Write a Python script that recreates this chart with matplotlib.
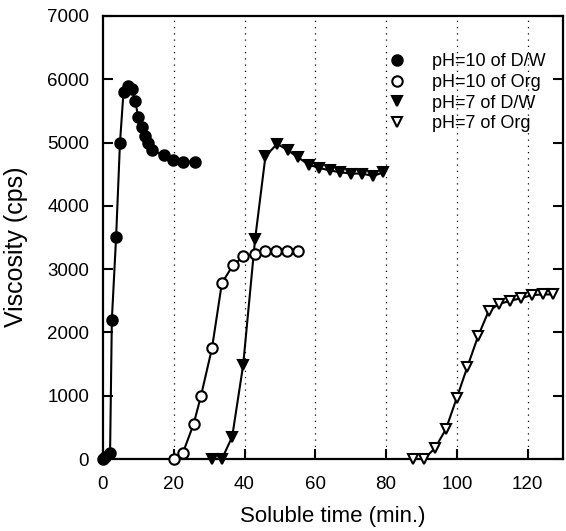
import matplotlib
matplotlib.use("Agg")
import matplotlib.pyplot as plt

plt.rcParams["font.family"] = ["Liberation Sans", "DejaVu Sans"]

# pH=10 of D/W (filled circles)
d10_time = [0, 0.6, 2.0, 2.5, 3.7, 4.8, 5.8, 7.0, 8.1, 9.1, 10.0, 11.0, 11.9, 12.8, 13.8, 17.1, 19.9, 22.7, 25.9]
d10_visc = [0, 30, 100, 2200, 3500, 5000, 5800, 5900, 5850, 5650, 5400, 5250, 5100, 5000, 4880, 4800, 4720, 4700, 4700]

# pH=10 of Org (open circles)
o10_time = [20, 22.6, 25.6, 27.7, 30.8, 33.6, 36.7, 39.7, 42.9, 45.9, 49, 52, 55]
o10_visc = [0, 100, 550, 1000, 1750, 2780, 3060, 3200, 3240, 3280, 3280, 3280, 3280]

# pH=7 of D/W (filled down-triangles)
d7_time = [30.8, 33.6, 36.5, 39.6, 43, 45.9, 49.2, 52.2, 55, 58.2, 61, 64.1, 67.1, 70.2, 73.3, 76.3, 79.2]
d7_visc = [0, 0, 350, 1480, 3480, 4780, 4980, 4880, 4770, 4650, 4600, 4560, 4530, 4510, 4510, 4470, 4530]

# pH=7 of Org (open down-triangles)
o7_time = [87.7, 90.7, 93.8, 96.9, 100, 103, 106, 109, 112, 115.1, 118.1, 121.2, 124.3, 127.3]
o7_visc = [0, 0, 170, 470, 970, 1460, 1940, 2340, 2450, 2500, 2540, 2590, 2600, 2600]

x_ticks = [0, 20, 40, 60, 80, 100, 120]
y_ticks = [0, 1000, 2000, 3000, 4000, 5000, 6000, 7000]

series = [
    (d10_time, d10_visc, "o", "black", "pH=10 of D/W"),
    (o10_time, o10_visc, "o", "white", "pH=10 of Org"),
    (d7_time, d7_visc, "v", "black", "pH=7 of D/W"),
    (o7_time, o7_visc, "v", "white", "pH=7 of Org"),
]

fig = plt.figure(figsize=(5.66, 5.31), dpi=100)
ax = fig.add_axes([103 / 566, 1 - 459 / 531, 460 / 566, 443 / 531])

# dotted vertical guides
for xv in x_ticks[1:]:
    ax.axvline(xv, color="black", linewidth=0.9, linestyle=(0, (1, 4)), zorder=1)

for t, v, mk, face, name in series:
    ax.plot(t, v, "-", color="black", linewidth=1.5, zorder=2, clip_on=False)
    ax.plot(t, v, linestyle="none", marker=mk, markersize=7.5, markerfacecolor=face,
            markeredgecolor="black", markeredgewidth=1.5, label=name, zorder=3, clip_on=False)

ax.set_xlim(0, 130)
ax.set_ylim(0, 7000)
ax.set_xticks(x_ticks)
ax.set_yticks(y_ticks)
for s in ax.spines.values():
    s.set_linewidth(1.6)
ax.tick_params(direction="in", length=7, width=1.5, labelsize=13.5, right=True, top=False)
ax.tick_params(axis="x", pad=12)
ax.tick_params(axis="y", pad=10)

ax.set_xlabel("Soluble time (min.)", fontsize=16)
ax.set_ylabel("Viscosity (cps)", fontsize=18)
ax.xaxis.set_label_coords(0.5, -0.105)
ax.yaxis.set_label_coords(-0.163, 0.479)

ax.legend(loc="upper left", bbox_to_anchor=(0.6, 0.936), frameon=False, fontsize=13,
          handlelength=1.0, handletextpad=1.45, labelspacing=0.2, borderpad=0, numpoints=1)

fig.savefig("out.png", dpi=100)
